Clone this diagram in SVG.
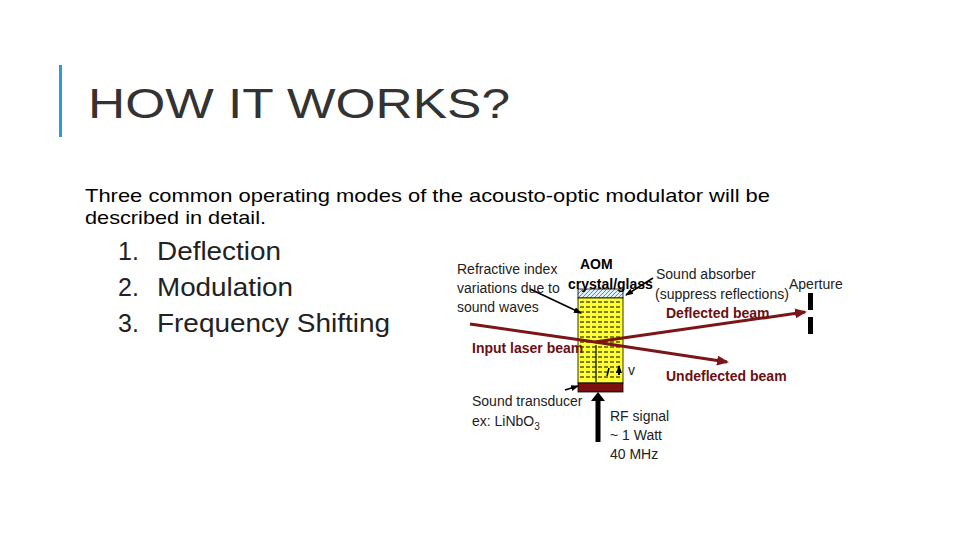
<svg xmlns="http://www.w3.org/2000/svg" width="960" height="540" viewBox="0 0 960 540">
<defs>
<style>
.t{font-family:"Liberation Sans",Arial,sans-serif;fill:#000}
.s{font-family:"Liberation Sans",Arial,sans-serif;font-size:14px;fill:#222}
.b{font-family:"Liberation Sans",Arial,sans-serif;font-size:14px;font-weight:bold;fill:#6b0f12}
.beam{stroke:#7a1518;stroke-width:3;fill:none}
.ptr{stroke:#000;stroke-width:1.5}
</style>
<marker id="rh" markerWidth="12" markerHeight="10" refX="10" refY="5" orient="auto" markerUnits="userSpaceOnUse"><path d="M0,0 L12,5 L0,10 z" fill="#7a1518"/></marker>
<marker id="kh" markerWidth="8" markerHeight="6" refX="7" refY="3" orient="auto" markerUnits="userSpaceOnUse"><path d="M0,0 L8,3 L0,6 z" fill="#000"/></marker>
<pattern id="hatch" width="4" height="4" patternUnits="userSpaceOnUse"><rect width="4" height="4" fill="#dff0f8"/><path d="M0,4 L4,0" stroke="#5a8fb0" stroke-width="1"/></pattern>
</defs>
<rect width="960" height="540" fill="#fff"/>
<rect x="59" y="65" width="3" height="72" fill="#2e9bd6"/>
<text x="88" y="118" class="t" font-size="42" style="fill:#333" textLength="422" lengthAdjust="spacingAndGlyphs">HOW IT WORKS?</text>
<text x="85" y="202" class="t" font-size="19" textLength="685" lengthAdjust="spacingAndGlyphs">Three common operating modes of the acousto-optic modulator will be</text>
<text x="85" y="224" class="t" font-size="19" textLength="181" lengthAdjust="spacingAndGlyphs">described in detail.</text>
<g class="t" font-size="25" style="fill:#222">
<text x="118" y="260">1.</text><text x="157" y="260" textLength="124" lengthAdjust="spacingAndGlyphs">Deflection</text>
<text x="118" y="296">2.</text><text x="157" y="296" textLength="136" lengthAdjust="spacingAndGlyphs">Modulation</text>
<text x="118" y="332">3.</text><text x="157" y="332" textLength="233" lengthAdjust="spacingAndGlyphs">Frequency Shifting</text>
</g>
<g id="aom">
<rect x="578" y="289" width="45" height="9" fill="url(#hatch)" stroke="#000" stroke-width="0.8"/>
<rect x="578" y="298" width="45" height="85" fill="#ffff33" stroke="#000" stroke-width="0.8"/>
<g stroke="#000" stroke-width="1" stroke-dasharray="4,2">
<line x1="580" y1="302" x2="622" y2="302"/><line x1="580" y1="307" x2="622" y2="307"/><line x1="580" y1="312" x2="622" y2="312"/><line x1="580" y1="317" x2="622" y2="317"/><line x1="580" y1="322" x2="622" y2="322"/><line x1="580" y1="327" x2="622" y2="327"/><line x1="580" y1="332" x2="622" y2="332"/><line x1="580" y1="337" x2="622" y2="337"/><line x1="580" y1="342" x2="622" y2="342"/><line x1="580" y1="347" x2="622" y2="347"/><line x1="580" y1="352" x2="622" y2="352"/><line x1="580" y1="357" x2="622" y2="357"/><line x1="580" y1="362" x2="622" y2="362"/><line x1="580" y1="367" x2="622" y2="367"/><line x1="580" y1="372" x2="622" y2="372"/><line x1="580" y1="377" x2="622" y2="377"/>
</g>
<rect x="578" y="383" width="45" height="9" fill="#7a1010" stroke="#000" stroke-width="0.8"/>
</g>
<g id="aperture"><rect x="808" y="293" width="5" height="17" fill="#000"/><rect x="808" y="317" width="5" height="17" fill="#000"/></g>
<g id="connectors">
<line x1="470" y1="324" x2="595" y2="342" class="beam"/>
<line x1="595" y1="342" x2="805" y2="312" class="beam" marker-end="url(#rh)"/>
<line x1="595" y1="342" x2="727" y2="362" class="beam" marker-end="url(#rh)"/>
<line x1="596" y1="345" x2="596" y2="382" stroke="#000" stroke-width="1.2"/>
<line x1="607" y1="376" x2="609" y2="368" stroke="#000" stroke-width="1.5"/>
<line x1="619" y1="375" x2="619" y2="366" stroke="#000" stroke-width="2" marker-end="url(#kh)"/>
<line x1="598" y1="442" x2="598" y2="400" stroke="#000" stroke-width="5"/>
<path d="M591,401 L598,392 L605,401 z" fill="#000"/>
<line x1="530" y1="289" x2="581" y2="313" class="ptr" marker-end="url(#kh)"/>
<line x1="653" y1="278" x2="626" y2="295" class="ptr" marker-end="url(#kh)"/>
<line x1="565" y1="390" x2="578" y2="386" class="ptr" marker-end="url(#kh)"/>
</g>
<g id="labels">
<text x="580" y="269" class="b" style="fill:#000">AOM</text>
<text x="568" y="289" class="b" style="fill:#000">crystal/glass</text>
<text x="457" y="274" class="s">Refractive index</text>
<text x="457" y="293" class="s">variations due to</text>
<text x="457" y="312" class="s">sound waves</text>
<text x="656" y="279" class="s">Sound absorber</text>
<text x="655" y="299" class="s">(suppress reflections)</text>
<text x="789" y="289" class="s">Aperture</text>
<text x="666" y="318" class="b">Deflected beam</text>
<text x="472" y="353" class="b">Input laser beam</text>
<text x="666" y="381" class="b">Undeflected beam</text>
<text x="628" y="375" class="s">v</text>
<text x="472" y="406" class="s">Sound transducer</text>
<text x="472" y="426" class="s">ex: LiNbO<tspan font-size="10" dy="4">3</tspan></text>
<text x="610" y="421" class="s">RF signal</text>
<text x="610" y="440" class="s">~ 1 Watt</text>
<text x="610" y="459" class="s">40 MHz</text>
</g>
</svg>
